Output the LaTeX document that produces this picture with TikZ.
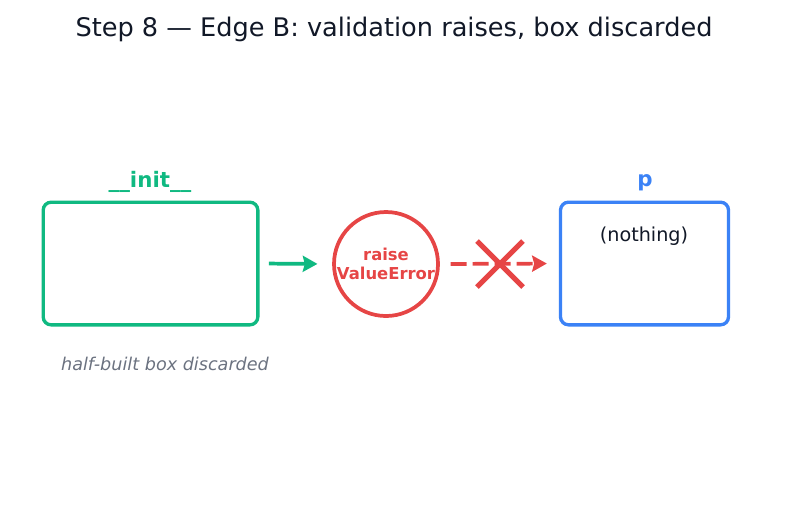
\documentclass[tikz,border=0pt]{standalone}
\usepackage{fontspec}
\setmainfont{DejaVu Sans}
\usepackage{xcolor}
\usetikzlibrary{positioning,arrows.meta,calc}
\definecolor{initgreen}{HTML}{10B981}
\definecolor{errred}{HTML}{E64545}
\definecolor{objblue}{HTML}{3B82F6}
\definecolor{notegray}{HTML}{6B7280}
\definecolor{inkdark}{HTML}{111827}
\tikzset{
  framebox/.style={draw, line width=2.5pt, rounded corners=6pt, minimum width=161pt, minimum height=92pt, inner sep=0pt},
  flowarrow/.style={line width=2.8pt, -{Stealth[length=11pt,width=12pt,inset=1.5pt]}}
}
\begin{document}
\begin{tikzpicture}[x=0.75pt, y=-0.75pt]
\useasboundingbox (0,0) rectangle (787,512);
\node[text=inkdark, font=\fontsize{19.2pt}{23pt}\selectfont] (title) at (394,29) {Step 8 — Edge B: validation raises, box discarded};
% half-built object
\node[framebox, initgreen] (initbox) at (150.5,263.5) {};
\node[initgreen, font=\fontsize{16pt}{19pt}\selectfont\bfseries] (initlbl) at (150,182) {\_\_init\_\_};
\node[notegray, font=\fontsize{13.2pt}{16pt}\selectfont\itshape] (note) at (165,364) {half-built box discarded};
% exception
\node[circle, draw=errred, line width=2.8pt, minimum size=78pt, inner sep=0pt, align=center,
  text=errred, font=\fontsize{12.3pt}{14.5pt}\selectfont\bfseries] (raise) at (386,264) {raise\\ValueError};
\draw[flowarrow, initgreen, shorten <=7pt, shorten >=11pt] (initbox.east) -- (raise.west);
% binding never happens
\node[framebox, objblue, minimum width=126pt] (pbox) at (644.5,263.5) {};
\node[objblue, font=\fontsize{16pt}{19pt}\selectfont\bfseries] (plbl) at (645,183) {p};
\node[inkdark, font=\fontsize{14.4pt}{17pt}\selectfont] (nothing) at (644,236) {(nothing)};
\draw[flowarrow, errred, dash pattern=on 12pt off 4.5pt, shorten <=8pt, shorten >=9pt] (raise.east) -- (pbox.west);
\coordinate (cross) at (500,264);
\draw[errred, line width=3.8pt] ($(cross)+(-23,-23)$) -- ($(cross)+(23,23)$);
\draw[errred, line width=3.8pt] ($(cross)+(-23,23)$) -- ($(cross)+(23,-23)$);
\end{tikzpicture}
\end{document}
